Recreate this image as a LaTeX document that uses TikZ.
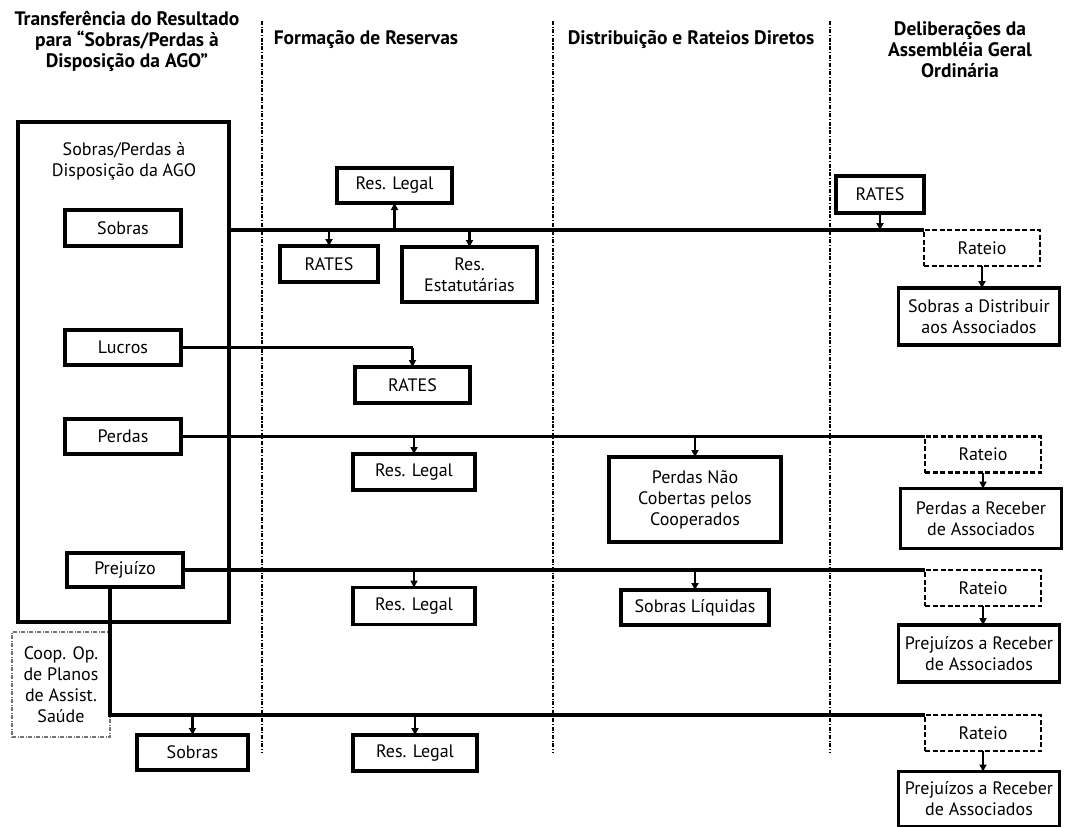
\documentclass[tikz,border=0pt]{standalone}
\usepackage{fontspec}
\setmainfont{PT Sans}
\usetikzlibrary{arrows.meta}
\newcommand{\bodyfnt}{\fontsize{18}{21}\selectfont}
\newcommand{\headfnt}{\fontsize{19.5}{21}\selectfont\bfseries}
\begin{document}
\begin{tikzpicture}[x=1pt,y=-1pt,
  box/.style={draw, line width=3.3pt, rectangle, inner sep=0pt, outer sep=0pt, align=center, font=\bodyfnt},
  ratbox/.style={draw, line width=2.4pt, dash pattern=on 5pt off 2.5pt, rectangle, inner sep=0pt, outer sep=0pt, align=center, font=\bodyfnt, minimum width=116, minimum height=36},
  resbox/.style={box, minimum width=161},
  coopbox/.style={draw=black!55, line width=1.2pt, dash pattern=on 4pt off 1.5pt on 1pt off 1.5pt, rectangle, inner sep=0pt, outer sep=0pt, align=center, font=\bodyfnt},
  head/.style={align=center, font=\headfnt, inner sep=0pt},
  lbl/.style={align=center, font=\bodyfnt, inner sep=0pt},
  conn/.style={line width=3.2pt},
  arr/.style={line width=2.2pt, -{Triangle[length=7pt,width=7pt]}},
  divider/.style={line width=2.2pt, dash pattern=on 4pt off 1.6pt on 1.2pt off 1.6pt}
]
\useasboundingbox (0,0) rectangle (1071,827);

% dividers
\coordinate (d1t) at (262,21); \coordinate (d1b) at (262,752);
\coordinate (d2t) at (553,21); \coordinate (d2b) at (553,752);
\coordinate (d3t) at (830,21); \coordinate (d3b) at (830,752);
\draw[divider] (d1t) -- (d1b);
\draw[divider] (d2t) -- (d2b);
\draw[divider] (d3t) -- (d3b);

% headers
\node[head] (h1) at (127,41) {Transferência do Resultado\\para “Sobras/Perdas à\\Disposição da AGO”};
\node[head] (h2) at (366,39) {Formação de Reservas};
\node[head] (h3) at (691,39) {Distribuição e Rateios Diretos};
\node[head] (h4) at (960,50) {Deliberações da\\Assembléia Geral\\Ordinária};

% left column
\node[box, minimum width=211, minimum height=500] (ago) at (123.5,372) {};
\node[lbl] (agot) at (124,161) {Sobras/Perdas à\\Disposição da AGO};
\node[box, minimum width=116, minimum height=36] (sob) at (123,228) {Sobras};
\node[box, minimum width=116, minimum height=35] (luc) at (123,347.5) {Lucros};
\node[box, minimum width=116, minimum height=35] (per) at (123,436.5) {Perdas};
\node[box, minimum width=116, minimum height=34] (pre) at (125,570) {Prejuízo};
\node[coopbox, minimum width=98, minimum height=105] (coop) at (61,684.5) {Coop. Op.\\de Planos\\de Assist.\\Saúde};
\node[box, minimum width=111, minimum height=35] (sob2) at (192.5,752.5) {Sobras};

% reserves column
\node[box, minimum width=115, minimum height=35] (rl1) at (394.5,185.5) {Res. Legal};
\node[box, minimum width=98, minimum height=36] (ra1) at (329,264) {RATES};
\node[box, minimum width=135, minimum height=55] (est) at (469.5,274.5) {Res.\\Estatutárias};
\node[box, minimum width=115, minimum height=36] (ra2) at (412.5,385) {RATES};
\node[box, minimum width=122, minimum height=36] (rl2) at (414,472) {Res. Legal};
\node[box, minimum width=122, minimum height=37] (rl3) at (414,606) {Res. Legal};
\node[box, minimum width=124, minimum height=36] (rl4) at (415,753) {Res. Legal};

% distribution column
\node[box, minimum width=172, minimum height=85] (pnc) at (695,499.5) {Perdas Não\\Cobertas pelos\\Cooperados};
\node[box, minimum width=148, minimum height=35] (sl) at (695,607.5) {Sobras Líquidas};

% AGO column
\node[box, minimum width=88, minimum height=37] (rr) at (880,194.5) {RATES};
\node[ratbox] (rat1) at (982,248) {Rateio};
\node[resbox, minimum height=57] (sad) at (979,316.5) {Sobras a Distribuir\\aos Associados};
\node[ratbox] (rat2) at (983,454.5) {Rateio};
\node[resbox, minimum height=60] (pra) at (981,518.5) {Perdas a Receber\\de Associados};
\node[ratbox] (rat3) at (983,588) {Rateio};
\node[resbox, minimum height=57] (prb) at (979,653.5) {Prejuízos a Receber\\de Associados};
\node[ratbox] (rat4) at (983,733) {Rateio};
\node[resbox, minimum height=55] (prc) at (979,799) {Prejuízos a Receber\\de Associados};

% line 1 (Sobras)
\draw[conn] (ago.east |- rat1.north west) -- (rat1.north west);
\draw[arr] (rl1.south |- rat1.north west) -- (rl1.south);
\draw[arr] (ra1.north |- rat1.north west) -- (ra1.north);
\draw[arr] (est.north |- rat1.north west) -- (est.north);
\draw[arr] (rr.south) -- (rr.south |- rat1.north west);
\draw[arr] (rat1.south) -- (rat1.south |- sad.north);

% line 2 (Lucros)
\draw[conn] (luc.east) -- (luc.east -| ra2.north);
\draw[arr] (luc.east -| ra2.north) -- (ra2.north);

% line 3 (Perdas)
\draw[conn] (per.east) -- (rat2.north west);
\draw[arr] (rl2.north |- per.east) -- (rl2.north);
\draw[arr] (pnc.north |- per.east) -- (pnc.north);
\draw[arr] (rat2.south) -- (rat2.south |- pra.north);

% line 4 (Prejuizo)
\draw[conn] (pre.east) -- (rat3.north west);
\draw[arr] (rl3.north |- pre.east) -- (rl3.north);
\draw[arr] (sl.north |- pre.east) -- (sl.north);
\draw[arr] (rat3.south) -- (rat3.south |- prb.north);

% line 5 (Coop.)
\coordinate (pv) at (110,587);
\draw[conn] (pv) |- (rat4.north west);
\draw[arr] (sob2.north |- rat4.north west) -- (sob2.north);
\draw[arr] (rl4.north |- rat4.north west) -- (rl4.north);
\draw[arr] (rat4.south) -- (rat4.south |- prc.north);
\end{tikzpicture}
\end{document}
